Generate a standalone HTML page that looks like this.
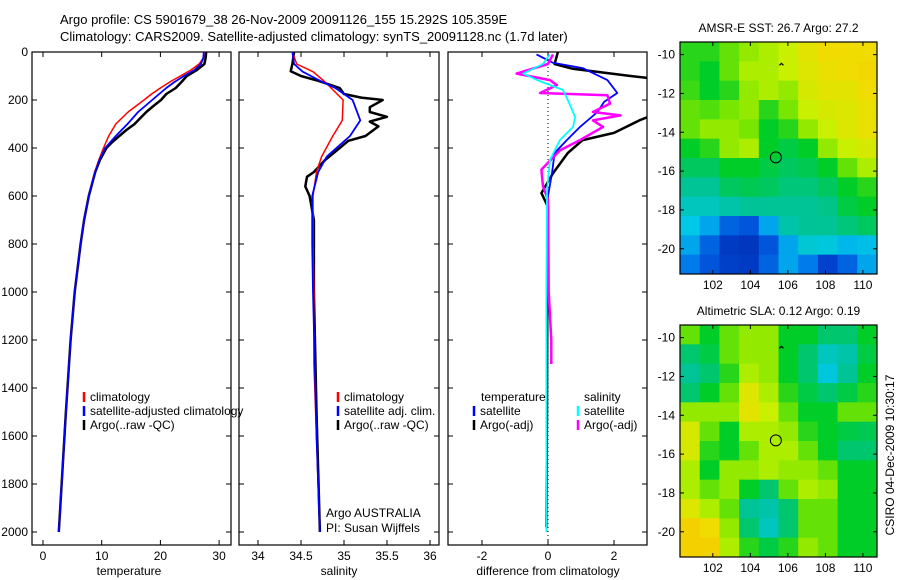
<!DOCTYPE html>
<html><head><meta charset="utf-8"><style>
body{margin:0;background:#fff;}
svg{display:block;font-family:"Liberation Sans",sans-serif;}
</style></head><body>
<svg id="fig" width="900" height="580" viewBox="0 0 900 580">
<text x="60" y="24" font-size="13">Argo profile: CS 5901679_38 26-Nov-2009 20091126_155 15.292S 105.359E</text>
<text x="60" y="41" font-size="13">Climatology: CARS2009. Satellite-adjusted climatology: synTS_20091128.nc (1.7d later)</text>
<g id="g"></g>
</svg>
<script>
// ---- profile data (depth in m) ----
const depthClim=[0,25,50,75,100,125,150,175,200,250,300,350,400,450,500,600,700,800,1000,1200,1500,2000];
const tempClim=[27.5,27.3,26.6,25.2,23.4,21.6,20,18.5,17.2,14.5,12.4,11.2,10.3,9.5,8.8,7.8,7.0,6.4,5.4,4.7,3.9,2.7];
const tempSat=[27.4,27.3,26.9,25.8,24.0,22.4,21.0,19.8,18.6,16.2,14.4,12.4,10.6,9.6,8.9,7.8,7.0,6.4,5.4,4.7,3.9,2.7];
const depthArgoT=[0,25,50,75,100,125,150,175,200,225,250,275,300,325,350,375,400,450,500,600,700,800,1000,1200,1500,2000];
const tempArgo=[27.8,27.7,27.5,26.2,24.5,23.6,22.6,21.0,20.1,18.8,17.6,16.6,15.6,14.2,13.0,11.8,10.8,9.7,8.9,7.8,7.0,6.4,5.4,4.7,3.9,2.7];
const depthSal=[0,50,82,125,150,200,285,350,436,500,600,800,1000,1300,1600,2000];
const salClim=[34.4,34.45,34.64,34.78,34.85,34.99,34.98,34.87,34.74,34.68,34.64,34.64,34.65,34.65,34.68,34.72];
const salSat=[34.4,34.42,34.52,34.75,34.9,35.1,35.19,35.07,34.8,34.7,34.63,34.63,34.64,34.66,34.68,34.72];
const depthArgoS=[0,50,80,100,120,150,175,190,200,230,250,270,290,310,350,370,400,450,500,520,560,600,700,1000,1500,2000];
const salArgo=[34.42,34.4,34.38,34.5,34.7,34.95,35.0,35.2,35.45,35.3,35.3,35.5,35.3,35.4,35.25,35.05,34.95,34.78,34.65,34.57,34.55,34.6,34.65,34.65,34.68,34.72];
// differences
const depthDT=[10,45,67,117,171,208,250,312,367,421,505,600,1000,1500,2000];
const diffTSat=[-0.35,0.15,1.05,1.8,2.1,1.7,1.5,0.97,0.57,0.2,0.12,0,-0.03,-0.05,-0.05];
const depthDTA=[0,50,70,100,117,187,240,283,337,367,421,505,588,645,1000,1500,1980];
const diffTArgo=[0.3,0.2,0.75,2.5,3.6,3.6,3.6,2.8,2.0,1.05,0.6,0.15,-0.2,0,-0.02,-0.03,-0.05];
const depthDS=[10,50,90,117,158,200,271,312,367,450,575,1000,1500,2000];
const diffSSat=[0.06,-0.15,-0.75,-0.33,0.45,0.6,0.82,0.76,0.36,0.06,-0.03,-0.05,-0.05,-0.05];
const depthDSA=[10,50,90,117,138,171,180,215,250,264,285,312,367,410,490,560,615,1000,1200,1300];
const diffSArgo=[0.15,0,-0.95,0.06,0.27,-0.24,1.8,1.88,1.36,2.2,1.36,1.67,0.97,0.36,-0.2,-0.15,0,0.02,0.1,0.1];
// ---- map data (normalized colour level 0..1) ----
const sstGrid=[
[.52,.52,.55,.58,.6,.62,.66,.68,.68,.68],
[.52,.5,.55,.6,.6,.62,.65,.67,.68,.69],
[.53,.5,.52,.58,.6,.58,.64,.66,.66,.68],
[.55,.54,.56,.58,.52,.56,.62,.64,.65,.67],
[.55,.58,.58,.56,.5,.52,.58,.62,.65,.67],
[.5,.52,.58,.6,.5,.48,.5,.58,.62,.64],
[.46,.46,.5,.5,.48,.46,.47,.5,.55,.6],
[.42,.42,.46,.47,.46,.44,.44,.46,.5,.52],
[.38,.38,.4,.42,.42,.42,.42,.43,.48,.5],
[.34,.3,.22,.2,.3,.4,.42,.42,.44,.46],
[.3,.22,.15,.14,.2,.3,.36,.35,.32,.33],
[.25,.2,.16,.15,.22,.3,.25,.17,.22,.3]];
const slaGrid=[
[.55,.5,.55,.58,.58,.5,.5,.45,.45,.5],
[.45,.48,.55,.58,.58,.5,.45,.38,.4,.48],
[.42,.45,.52,.6,.58,.5,.45,.35,.42,.5],
[.45,.5,.55,.65,.6,.52,.48,.45,.48,.52],
[.58,.58,.58,.66,.62,.55,.5,.5,.55,.55],
[.64,.55,.5,.6,.6,.58,.52,.5,.48,.47],
[.64,.52,.5,.55,.6,.6,.55,.5,.45,.45],
[.6,.5,.58,.58,.6,.58,.58,.55,.5,.5],
[.6,.55,.58,.5,.45,.55,.6,.58,.5,.5],
[.65,.6,.55,.42,.4,.45,.55,.55,.5,.5],
[.7,.68,.58,.45,.38,.45,.55,.55,.5,.5],
[.7,.7,.6,.52,.48,.52,.58,.55,.5,.5]];
const depthTicks=[0,200,400,600,800,1000,1200,1400,1600,1800,2000];
const tempTicks=[0,10,20,30];
const salTicks=[34,34.5,35,35.5,36];
const diffTicks=[-2,0,2];
const latTicks=[-10,-12,-14,-16,-18,-20];
const lonTicks=[102,104,106,108,110];
const floatLon=105.359, floatLat=-15.292;

const NS="http://www.w3.org/2000/svg";
const G=document.getElementById('g');
function mk(tag,attrs,parent){const e=document.createElementNS(NS,tag);for(const k in attrs)e.setAttribute(k,attrs[k]);(parent||G).appendChild(e);return e;}
const yD=d=>52+d*0.24;
const PB=545;
function panel(x0,x1,name){
  const r=mk('rect',{x:x0,y:52,width:x1-x0,height:PB-52,fill:'none',stroke:'#000','stroke-width':1.2});
  
  
}
function line(xs,ds,xf,color,w,name){
  const pts=xs.map((v,i)=>xf(v).toFixed(1)+','+yD(ds[i]).toFixed(1)).join(' ');
  const p=mk('polyline',{points:pts,fill:'none',stroke:color,'stroke-width':w,'stroke-linejoin':'round'});
  
  
}
function xtick(x,label,name){
  mk('line',{x1:x,y1:52,x2:x,y2:57,stroke:'#000'});
  mk('line',{x1:x,y1:PB,x2:x,y2:PB-5,stroke:'#000'});
  const t=mk('text',{x:x,y:PB+15,'font-size':12,'text-anchor':'middle'});t.textContent=label;
  
  
}
function ytick(x0,x1,d,lab){
  const y=yD(d);
  mk('line',{x1:x0,y1:y,x2:x0+5,y2:y,stroke:'#000'});
  mk('line',{x1:x1,y1:y,x2:x1-5,y2:y,stroke:'#000'});
  if(lab){const t=mk('text',{x:x0-4,y:y+4,'font-size':12,'text-anchor':'end'});t.textContent=d;
  
  }
}
function txt(x,y,s,name,anchor){const t=mk('text',{x:x,y:y,'font-size':12,'text-anchor':anchor||'start'});t.textContent=s;
  
  return t;}
function leg(x,y,color,label,name){
  const l=mk('line',{x1:x,y1:y-9,x2:x,y2:y+1,stroke:color,'stroke-width':2.5});
  
  
  if(label)txt(x+6,y,label,name);
}
// Panel 1 temperature
const xT=v=>43+v*5.87;
panel(32,231,'temperature-panel');
depthTicks.forEach(d=>ytick(32,231,d,true));
tempTicks.forEach(v=>xtick(xT(v),v,'temperature-tick-label'));
line(tempArgo,depthArgoT,xT,'#000',2.5,'argo-temperature-line');
line(tempClim,depthClim,xT,'#f00',1.5,'climatology-temperature-line');
line(tempSat,depthClim,xT,'#00f',1.8,'satellite-temperature-line');
txt(129,575,'temperature','temperature-axis-title','middle');
leg(84,401,'#f00','climatology','legend-climatology');
leg(84,415,'#00f','satellite-adjusted climatology','legend-satellite');
leg(84,429,'#000','Argo(..raw -QC)','legend-argo');
// Panel 2 salinity
const xS=v=>258+(v-34)*86;
panel(239,439,'salinity-panel');
depthTicks.forEach(d=>ytick(239,439,d,false));
salTicks.forEach(v=>xtick(xS(v),v,'salinity-tick-label'));
line(salArgo,depthArgoS,xS,'#000',2.5,'argo-salinity-line');
line(salClim,depthSal,xS,'#f00',1.5,'climatology-salinity-line');
line(salSat,depthSal,xS,'#00f',1.8,'satellite-salinity-line');
txt(339,575,'salinity','salinity-axis-title','middle');
leg(338,401,'#f00','climatology','legend-climatology-2');
leg(338,415,'#00f','satellite adj. clim.','legend-satellite-2');
leg(338,429,'#000','Argo(..raw -QC)','legend-argo-2');
txt(326,517,'Argo AUSTRALIA','argo-australia-label');
txt(326,532,'PI: Susan Wijffels','pi-label');
// Panel 3 difference
const xDf=v=>548+v*33;
mk('defs',{}).innerHTML='<clipPath id="c3"><rect x="448" y="52" width="199" height="493"/></clipPath>';
panel(448,647,'difference-panel');
depthTicks.forEach(d=>ytick(448,647,d,false));
diffTicks.forEach(v=>xtick(xDf(v),v,'difference-tick-label'));
mk('line',{x1:548,y1:55,x2:548,y2:PB,stroke:'#000','stroke-dasharray':'1,3'});
const gc=mk('g',{'clip-path':'url(#c3)'});
function line3(xs,ds,color,w,name){
  const pts=xs.map((v,i)=>xDf(v).toFixed(1)+','+yD(ds[i]).toFixed(1)).join(' ');
  const p=mk('polyline',{points:pts,fill:'none',stroke:color,'stroke-width':w,'stroke-linejoin':'round'},gc);
  
  
}
line3(diffTArgo,depthDTA,'#000',2.5,'argo-temperature-diff-line');
line3(diffTSat,depthDT,'#00f',1.8,'satellite-temperature-diff-line');
line3(diffSArgo,depthDSA,'#f0f',2.5,'argo-salinity-diff-line');
line3(diffSSat,depthDS,'#0ff',1.8,'satellite-salinity-diff-line');
txt(548,575,'difference from climatology','difference-axis-title','middle');
txt(481,401,'temperature','legend-temperature-heading');
txt(584,401,'salinity','legend-salinity-heading');
leg(474,415,'#00f','satellite','legend-temp-satellite');
leg(474,429,'#000','Argo(-adj)','legend-temp-argo');
leg(578,415,'#0ff','satellite','legend-sal-satellite');
leg(578,429,'#f0f','Argo(-adj)','legend-sal-argo');
// ---- maps ----
const cmapStops=[[0.10,0,40,170],[0.18,0,70,210],[0.26,0,130,240],[0.34,0,200,230],[0.42,0,195,150],[0.50,0,205,40],[0.56,120,230,0],[0.62,200,240,0],[0.68,240,220,0],[0.75,250,180,0]];
function cmap(v){
  if(v<=cmapStops[0][0])return `rgb(${cmapStops[0][1]},${cmapStops[0][2]},${cmapStops[0][3]})`;
  for(let i=1;i<cmapStops.length;i++){const a=cmapStops[i-1],b=cmapStops[i];
    if(v<=b[0]){const t=(v-a[0])/(b[0]-a[0]);const c=k=>Math.round(a[k]+(b[k]-a[k])*t);return `rgb(${c(1)},${c(2)},${c(3)})`;}}
  const l=cmapStops[cmapStops.length-1];return `rgb(${l[1]},${l[2]},${l[3]})`;
}
function map(grid,top,title,name){
  const x0=680,x1=877,y0=top,y1=top+232;
  const lon0=100.25,lon1=110.75,lat0=-9.35,lat1=-21.3;
  const mx=l=>x0+(l-lon0)/(lon1-lon0)*(x1-x0);
  const my=l=>y0+(l-lat0)/(lat1-lat0)*(y1-y0);
  const rows=grid.length,cols=grid[0].length,cw=(x1-x0)/cols,ch=(y1-y0)/rows;
  grid.forEach((row,i)=>row.forEach((v,j)=>{
    const r=mk('rect',{x:x0+j*cw,y:y0+i*ch,width:cw+0.5,height:ch+0.5,fill:cmap(v)});
    
    
  }));
  const f=mk('rect',{x:x0,y:y0,width:x1-x0,height:y1-y0,fill:'none',stroke:'#000','stroke-width':1.2});
  
  
  latTicks.forEach(l=>{const y=my(l);mk('line',{x1:x0,y1:y,x2:x0+4,y2:y,stroke:'#000'});mk('line',{x1:x1,y1:y,x2:x1-4,y2:y,stroke:'#000'});
    txt(x0-5,y+4,String(l),name+'-lat-label','end');});
  lonTicks.forEach(l=>{const x=mx(l);mk('line',{x1:x,y1:y0,x2:x,y2:y0+4,stroke:'#000'});mk('line',{x1:x,y1:y1,x2:x,y2:y1-4,stroke:'#000'});
    txt(x,y1+15,String(l),name+'-lon-label','middle');});
  const c=mk('circle',{cx:mx(floatLon),cy:my(floatLat),r:5.5,fill:'none',stroke:'#000','stroke-width':1});
  
  
  mk('path',{d:`M${mx(105.55)} ${my(-10.55)} l2 -2 l2 2`,fill:'none',stroke:'#000','stroke-width':1.2});
  txt((x0+x1)/2,top-10,title,name+'-title','middle');
}
map(sstGrid,42,'AMSR-E SST: 26.7 Argo: 27.2','sst-map');
map(slaGrid,325,'Altimetric SLA: 0.12 Argo: 0.19','sla-map');
const ts=mk('text',{x:0,y:0,'font-size':12,'text-anchor':'middle',transform:'translate(894,455) rotate(-90)'});
ts.textContent='CSIRO 04-Dec-2009 10:30:17';


</script>
</body></html>
